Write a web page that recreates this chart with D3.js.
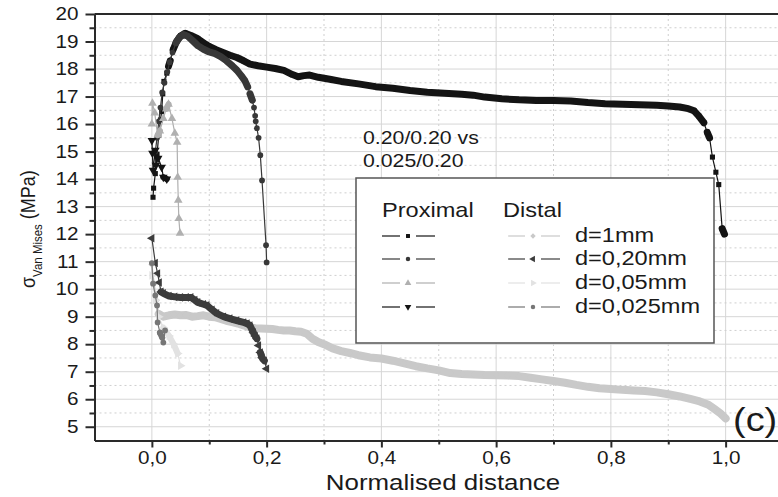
<!DOCTYPE html>
<html>
<head>
<meta charset="utf-8">
<script src="https://cdn.jsdelivr.net/npm/d3@7"></script>
<style>
  body { margin: 0; background: #fff; }
  svg { display: block; }
  text { font-family: "Liberation Sans", Arial, sans-serif; fill: #1a1a1a; }
</style>
</head>
<body>
<svg id="chart" width="778" height="497"></svg>
<script>
// ---- data ----
const xTicks = [0, 0.2, 0.4, 0.6, 0.8, 1.0];
const xMinor = [0.1, 0.3, 0.5, 0.7, 0.9];
const yTicks = [5, 6, 7, 8, 9, 10, 11, 12, 13, 14, 15, 16, 17, 18, 19, 20];
const yMinor = [5.5, 6.5, 7.5, 8.5, 9.5, 10.5, 11.5, 12.5, 13.5, 14.5, 15.5, 16.5, 17.5, 18.5, 19.5];
const legendLabels = ['d=1mm', 'd=0,20mm', 'd=0,05mm', 'd=0,025mm'];

// Proximal
const prox1mm = [[0.002,13.34],[0.003,13.67],[0.006,14.2],[0.009,14.9],[0.012,15.6],[0.015,16.15],[0.017,16.45],
  [0.019,17.1],[0.021,17.55],[0.026,17.85],[0.029,18.1],[0.032,18.3],[0.037,18.7],[0.043,19.0],[0.05,19.2],
  [0.058,19.3],[0.068,19.22],[0.08,19.1],[0.09,18.95],[0.1,18.82],[0.112,18.7],[0.124,18.6],[0.136,18.5],
  [0.148,18.42],[0.16,18.3],[0.171,18.18],[0.185,18.12],[0.2,18.07],[0.215,18.02],[0.23,17.95],[0.245,17.8],
  [0.255,17.72],[0.265,17.76],[0.275,17.78],[0.29,17.7],[0.31,17.63],[0.33,17.55],[0.36,17.46],[0.39,17.36],
  [0.42,17.3],[0.45,17.22],[0.48,17.16],[0.51,17.12],[0.54,17.08],[0.56,17.05],[0.58,16.98],[0.61,16.92],
  [0.64,16.88],[0.67,16.86],[0.7,16.86],[0.73,16.84],[0.76,16.78],[0.79,16.74],[0.82,16.72],[0.85,16.7],
  [0.88,16.68],[0.9,16.66],[0.92,16.62],[0.935,16.56],[0.945,16.48],[0.953,16.3],[0.962,16.05],[0.968,15.7],
  [0.972,15.5],[0.977,14.8],[0.983,14.25],[0.988,13.8],[0.994,12.2],[0.998,12.0]];
const prox020 = [[0.006,15.0],[0.009,15.5],[0.012,16.1],[0.015,16.6],[0.018,17.15],[0.022,17.5],[0.027,17.9],
  [0.031,18.25],[0.036,18.6],[0.042,18.95],[0.048,19.15],[0.055,19.25],[0.062,19.2],[0.07,19.05],[0.08,18.85],
  [0.09,18.72],[0.1,18.62],[0.11,18.56],[0.12,18.45],[0.13,18.3],[0.14,18.12],[0.148,17.96],[0.156,17.75],
  [0.162,17.58],[0.167,17.35],[0.171,17.1],[0.175,16.87],[0.178,16.6],[0.18,16.3],[0.181,16.1],[0.183,15.85],
  [0.186,15.5],[0.189,14.87],[0.192,13.95],[0.199,11.6],[0.2,10.97]];
const prox005 = [[0.0,16.0],[0.001,16.76],[0.005,16.4],[0.01,15.6],[0.014,15.75],[0.02,16.2],[0.025,16.55],
  [0.029,16.72],[0.035,16.2],[0.04,15.67],[0.044,15.34],[0.045,14.07],[0.046,13.23],[0.047,12.57],[0.049,12.03]];
const prox0025 = [[0.0,15.4],[0.001,14.94],[0.002,14.32],[0.006,15.05],[0.007,14.5],[0.011,14.76],
  [0.017,14.43],[0.02,14.07],[0.026,14.0]];

// Distal
const dist1mm = [[0.0,10.9],[0.004,10.2],[0.008,9.6],[0.012,9.1],[0.02,9.0],[0.03,9.05],[0.04,9.08],[0.05,9.05],
  [0.06,9.06],[0.07,9.0],[0.08,9.02],[0.09,9.05],[0.1,9.0],[0.11,8.98],[0.12,8.92],[0.13,8.85],[0.14,8.8],
  [0.15,8.75],[0.16,8.68],[0.17,8.62],[0.18,8.58],[0.19,8.57],[0.2,8.56],[0.21,8.55],[0.22,8.52],[0.23,8.5],
  [0.24,8.5],[0.25,8.47],[0.26,8.45],[0.27,8.38],[0.28,8.2],[0.29,8.08],[0.3,8.0],[0.315,7.85],[0.33,7.75],
  [0.345,7.68],[0.36,7.6],[0.38,7.52],[0.4,7.48],[0.42,7.4],[0.44,7.3],[0.46,7.2],[0.48,7.12],[0.5,7.05],
  [0.52,6.95],[0.54,6.92],[0.56,6.9],[0.58,6.88],[0.6,6.87],[0.62,6.86],[0.64,6.84],[0.66,6.78],[0.68,6.72],
  [0.7,6.66],[0.72,6.6],[0.74,6.52],[0.76,6.45],[0.78,6.4],[0.8,6.37],[0.82,6.34],[0.84,6.32],[0.86,6.3],
  [0.88,6.25],[0.9,6.18],[0.92,6.1],[0.94,6.0],[0.955,5.92],[0.97,5.8],[0.98,5.65],[0.99,5.5],[1.0,5.3]];
const dist020 = [[0.0,11.85],[0.006,10.95],[0.01,10.57],[0.013,10.24],[0.016,9.9],[0.02,9.85],[0.03,9.75],
  [0.04,9.72],[0.05,9.7],[0.06,9.7],[0.068,9.7],[0.075,9.6],[0.08,9.52],[0.09,9.45],[0.096,9.41],[0.105,9.25],
  [0.113,9.12],[0.125,9.0],[0.136,8.93],[0.148,8.86],[0.16,8.79],[0.166,8.75],[0.171,8.68],[0.177,8.42],
  [0.18,8.3],[0.183,8.2],[0.186,7.95],[0.189,7.7],[0.192,7.51],[0.196,7.4],[0.2,7.11]];
const dist005 = [[0.0,10.5],[0.006,9.6],[0.012,9.0],[0.02,8.6],[0.03,8.3],[0.038,8.0],[0.045,7.66],[0.05,7.22]];
const dist0025 = [[0.0,10.95],[0.002,10.2],[0.006,9.77],[0.009,9.41],[0.01,8.79],[0.014,8.42],[0.018,8.24],
  [0.02,8.06],[0.023,8.5]];

// ---- layout ----
const SX = 1.15; // the figure's text is a bit wider than plain Arial
const svg = d3.select('#chart');
const x = d3.scaleLinear().domain([-0.1, 1.1]).range([94.5, 783]);
const y = d3.scaleLinear().domain([4.5, 20]).range([440.5, 14]);
const comma = d => d3.format('.1f')(d).replace('.', ',');

// grid
const grid = svg.append('g');
grid.selectAll('.gx').data(xTicks).join('line')
    .attr('x1', d => x(d)).attr('x2', d => x(d)).attr('y1', y(20)).attr('y2', y(4.5))
    .attr('stroke', '#d6d6d6').attr('stroke-width', 1);
grid.selectAll('.gxm').data(xMinor).join('line')
    .attr('x1', d => x(d)).attr('x2', d => x(d)).attr('y1', y(20)).attr('y2', y(4.5))
    .attr('stroke', '#cfcfcf').attr('stroke-dasharray', '2,3');
grid.selectAll('.gy').data(yTicks).join('line')
    .attr('x1', x(-0.1)).attr('x2', x(1.1)).attr('y1', d => y(d)).attr('y2', d => y(d))
    .attr('stroke', '#d6d6d6').attr('stroke-width', 1);
grid.selectAll('.gym').data(yMinor).join('line')
    .attr('x1', x(-0.1)).attr('x2', x(1.1)).attr('y1', d => y(d)).attr('y2', d => y(d))
    .attr('stroke', '#cfcfcf').attr('stroke-dasharray', '2,3');

// series styles
const symTypes = {
  square:  {type: d3.symbolSquare, rot: 0, size: 26},
  circle:  {type: d3.symbolCircle, rot: 0, size: 26},
  triUp:   {type: d3.symbolTriangle, rot: 0, size: 32},
  triDown: {type: d3.symbolTriangle, rot: 180, size: 32},
  triLeft: {type: d3.symbolTriangle, rot: -90, size: 32},
  triRight:{type: d3.symbolTriangle, rot: 90, size: 32},
  diamond: {type: d3.symbolSquare, rot: 45, size: 24}
};
const series = [
  {data: prox1mm,  color: '#141414', sym: 'square',  band: 7},
  {data: prox020,  color: '#383838', sym: 'circle',  band: 7},
  {data: prox005,  color: '#b0b0b0', sym: 'triUp',   band: 6},
  {data: prox0025, color: '#141414', sym: 'triDown', band: 6},
  {data: dist1mm,  color: '#c9c9c9', sym: 'diamond', band: 8},
  {data: dist020,  color: '#3c3c3c', sym: 'triLeft', band: 7},
  {data: dist005,  color: '#e2e2e2', sym: 'triRight',band: 6},
  {data: dist0025, color: '#767676', sym: 'circle',  band: 6}
];

// runs of closely packed points are drawn as a solid band, like the dense markers in the figure
function bandRuns(pts) {
  const runs = [];
  let cur = null;
  for (let i = 1; i < pts.length; i++) {
    const a = pts[i - 1], b = pts[i];
    const dx = Math.abs(x(b[0]) - x(a[0])), dy = Math.abs(y(b[1]) - y(a[1]));
    if (dy <= 1.6 * dx + 3) {
      if (!cur) { cur = [a]; runs.push(cur); }
      cur.push(b);
    } else {
      cur = null;
    }
  }
  return runs;
}

const line = d3.line().x(d => x(d[0])).y(d => y(d[1]));
const plot = svg.append('g');
series.forEach(s => {
  const g = plot.append('g');
  g.append('path').datum(s.data).attr('d', line)
      .attr('fill', 'none').attr('stroke', s.color).attr('stroke-width', 1.2);
  g.selectAll('.band').data(bandRuns(s.data)).join('path')
      .attr('d', line).attr('fill', 'none').attr('stroke', s.color)
      .attr('stroke-width', s.band).attr('stroke-linejoin', 'round').attr('stroke-linecap', 'round');
  const st = symTypes[s.sym];
  g.selectAll('.pt').data(s.data).join('path')
      .attr('d', d3.symbol().type(st.type).size(st.size))
      .attr('transform', d => `translate(${x(d[0])},${y(d[1])}) rotate(${st.rot})`)
      .attr('fill', s.color);
});

// axes
const yAxis = d3.axisLeft(y).tickValues(yTicks).tickSize(9).tickPadding(5).tickSizeOuter(0).tickFormat(d3.format('d'));
const yAxisMinor = d3.axisLeft(y).tickValues(yMinor).tickSize(5).tickSizeOuter(0).tickFormat('');
const xAxis = d3.axisBottom(x).tickValues(xTicks).tickSize(7).tickPadding(4).tickSizeOuter(0).tickFormat(comma);
const xAxisMinor = d3.axisBottom(x).tickValues(xMinor).tickSize(4).tickSizeOuter(0).tickFormat('');

function styleAxis(g) {
  g.attr('font-size', 18).attr('font-family', '"Liberation Sans", Arial, sans-serif');
  g.selectAll('path, line').attr('stroke', '#2a2a2a').attr('stroke-width', 2);
  g.selectAll('text').attr('fill', '#1a1a1a').attr('transform', `scale(${SX},1)`);
}
svg.append('g').attr('transform', `translate(${x(-0.1)},0)`).call(yAxisMinor).call(styleAxis);
svg.append('g').attr('transform', `translate(${x(-0.1)},0)`).call(yAxis).call(styleAxis);
svg.append('g').attr('transform', `translate(0,${y(4.5)})`).call(xAxisMinor).call(styleAxis);
svg.append('g').attr('transform', `translate(0,${y(4.5)})`).call(xAxis).call(styleAxis);
svg.append('line').attr('x1', x(-0.1)).attr('x2', x(1.1)).attr('y1', y(20)).attr('y2', y(20))
    .attr('stroke', '#2a2a2a').attr('stroke-width', 2);

// axis titles
svg.append('text').attr('transform', `translate(443,490) scale(${SX},1)`)
    .attr('text-anchor', 'middle').attr('font-size', 22.5).text('Normalised distance');

const yl = svg.append('text').attr('transform', `translate(35,288) scale(${SX},1) rotate(-90)`)
    .attr('font-size', 18);
yl.append('tspan').text('σ');
yl.append('tspan').attr('font-size', 11.5).attr('dy', 6).text('Van Mises');
yl.append('tspan').attr('dy', -6).text(' (MPa)');

// annotation
svg.append('text').attr('transform', `translate(363,144) scale(${SX},1)`).attr('font-size', 18.5).text('0.20/0.20 vs');
svg.append('text').attr('transform', `translate(363,167) scale(${SX},1)`).attr('font-size', 18.5).text('0.025/0.20');
svg.append('text').attr('transform', `translate(733,431) scale(${SX},1)`).attr('font-size', 33).text('(c)');

// legend
const lg = svg.append('g');
lg.append('rect').attr('x', 356).attr('y', 178).attr('width', 358).attr('height', 165)
    .attr('fill', '#fff').attr('stroke', '#555').attr('stroke-width', 1.5);
lg.append('text').attr('transform', `translate(382,217) scale(${SX},1)`).attr('font-size', 20.5).text('Proximal');
lg.append('text').attr('transform', `translate(503,217) scale(${SX},1)`).attr('font-size', 20.5).text('Distal');
const rowY = [242, 265, 289, 313];
const cols = [{x0: 382, cx: 408, x1: 435}, {x0: 508, cx: 533, x1: 560}];
series.forEach((s, i) => {
  const col = cols[Math.floor(i / 4)];
  const cy = rowY[i % 4] - 6;
  const st = symTypes[s.sym];
  lg.append('line').attr('x1', col.x0).attr('x2', col.cx - 8).attr('y1', cy).attr('y2', cy)
      .attr('stroke', s.color).attr('stroke-width', 1.2);
  lg.append('line').attr('x1', col.cx + 8).attr('x2', col.x1).attr('y1', cy).attr('y2', cy)
      .attr('stroke', s.color).attr('stroke-width', 1.2);
  lg.append('path').attr('d', d3.symbol().type(st.type).size(st.size * 0.6))
      .attr('transform', `translate(${col.cx},${cy}) rotate(${st.rot})`).attr('fill', s.color);
});
legendLabels.forEach((t, i) => {
  lg.append('text').attr('transform', `translate(575,${rowY[i]}) scale(${SX},1)`).attr('font-size', 20.5).text(t);
});
</script>
</body>
</html>
